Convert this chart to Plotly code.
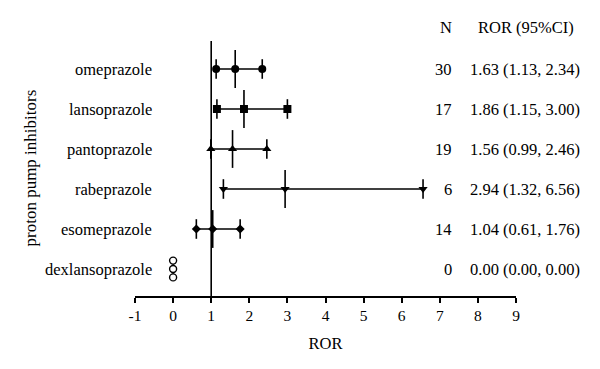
import plotly.graph_objects as go

drugs = ["omeprazole", "lansoprazole", "pantoprazole", "rabeprazole", "esomeprazole", "dexlansoprazole"]
n_cases = [30, 17, 19, 6, 14, 0]
ror = [1.63, 1.86, 1.56, 2.94, 1.04, 0.00]
lower = [1.13, 1.15, 0.99, 1.32, 0.61, 0.00]
upper = [2.34, 3.00, 2.46, 6.56, 1.76, 0.00]
symbols = ["circle", "square", "triangle-up", "triangle-down", "diamond", "circle-open"]
sizes = [8, 8, 8, 8, 7, 7]
x_ticks = [-1, 0, 1, 2, 3, 4, 5, 6, 7, 8, 9]

FONT = "Liberation Serif"
fig = go.Figure()
nrow = len(drugs)
for i, d in enumerate(drugs):
    y = nrow - 1 - i
    if n_cases[i] > 0:
        fig.add_trace(go.Scatter(x=[lower[i], upper[i]], y=[y, y], mode="lines",
                                 line=dict(color="black", width=1.6), hoverinfo="skip"))
        fig.add_trace(go.Scatter(x=[lower[i], upper[i]], y=[y, y], mode="markers",
                                 marker=dict(symbol="line-ns-open", size=14, color="black",
                                             line=dict(color="black", width=1.6)),
                                 hoverinfo="skip"))
        fig.add_trace(go.Scatter(x=[ror[i]], y=[y], mode="markers",
                                 marker=dict(symbol="line-ns-open", size=27, color="black",
                                             line=dict(color="black", width=1.6)),
                                 hoverinfo="skip"))
        fig.add_trace(go.Scatter(x=[lower[i], ror[i], upper[i]], y=[y, y, y], mode="markers",
                                 marker=dict(symbol=symbols[i], size=sizes[i], color="black",
                                             line=dict(width=0)),
                                 hoverinfo="skip"))
    else:
        ys = [y + 0.21, y, y - 0.21]
        fig.add_trace(go.Scatter(x=[lower[i], ror[i], upper[i]], y=[y + 0.3, y, y - 0.3], mode="lines",
                                 line=dict(color="black", width=1.2), hoverinfo="skip"))
        fig.add_trace(go.Scatter(x=[lower[i], ror[i], upper[i]], y=ys, mode="markers",
                                 marker=dict(symbol="circle", size=sizes[i], color="white",
                                             line=dict(color="black", width=1.4)),
                                 hoverinfo="skip"))
    fig.add_annotation(x=-0.5, y=y, xref="x", yref="y", text=d, showarrow=False,
                       xanchor="right", yanchor="middle", font=dict(family=FONT, size=16.5, color="black"))
    fig.add_annotation(x=1.0 + (454 - 516) / 381, y=y, xref="paper", yref="y", text=str(n_cases[i]),
                       showarrow=False, xanchor="right", yanchor="middle",
                       font=dict(family=FONT, size=16.5, color="black"))
    fig.add_annotation(x=1.0 + (468 - 516) / 381, y=y, xref="paper", yref="y",
                       text=f"{ror[i]:.2f} ({lower[i]:.2f}, {upper[i]:.2f})",
                       showarrow=False, xanchor="left", yanchor="middle",
                       font=dict(family=FONT, size=16.5, color="black"))

fig.add_annotation(x=1.0 + (446 - 516) / 381, y=1.0 + (41 - 28) / 255, xref="paper", yref="paper", text="N",
                   showarrow=False, xanchor="center", yanchor="middle", font=dict(family=FONT, size=16.5, color="black"))
fig.add_annotation(x=1.0 + (476 - 516) / 381, y=1.0 + (41 - 28) / 255, xref="paper", yref="paper", text="ROR (95%CI)",
                   showarrow=False, xanchor="left", yanchor="middle", font=dict(family=FONT, size=16.5, color="black"))
fig.add_annotation(x=(30 - 135) / 381, y=0.5, xref="paper", yref="paper", text="proton pump inhibitors",
                   textangle=-90, showarrow=False, xanchor="center", yanchor="middle",
                   font=dict(family=FONT, size=17, color="black"))

fig.add_shape(type="line", x0=1, x1=1, y0=0, y1=1, xref="x", yref="paper",
              line=dict(color="black", width=1.6))

fig.update_layout(
    width=600, height=369, showlegend=False,
    margin=dict(l=135, r=84, t=41, b=73),
    plot_bgcolor="white", paper_bgcolor="white",
    xaxis=dict(range=[-1, 9], tickvals=x_ticks, ticktext=[str(v) for v in x_ticks],
               showgrid=False, zeroline=False, showline=True, linecolor="black", linewidth=1.6,
               ticks="outside", ticklen=5, tickwidth=1.6, tickcolor="black",
               tickfont=dict(family=FONT, size=15.5, color="black"),
               title=dict(text="ROR", font=dict(family=FONT, size=16.5, color="black"), standoff=14)),
    yaxis=dict(range=[-0.675, 5.7], showgrid=False, zeroline=False, showline=False,
               showticklabels=False, ticks=""),
)
fig.write_html("out.html", config={"displayModeBar": False},
               post_script="document.body.style.margin='0';")
